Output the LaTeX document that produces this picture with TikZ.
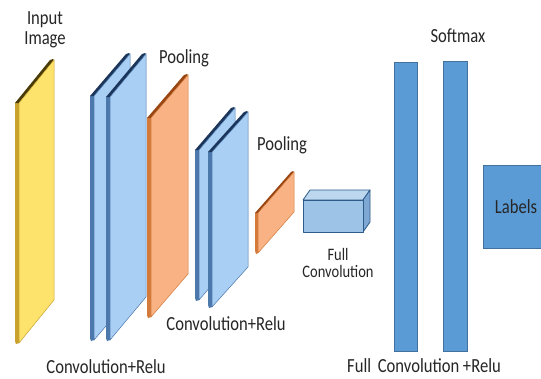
\documentclass[tikz,border=0pt]{standalone}
\usepackage{fontspec}
\setmainfont[FakeStretch=0.83]{Carlito}
\definecolor{txt}{HTML}{262626}
\definecolor{yface}{HTML}{FDE36C}
\definecolor{ystrip}{HTML}{C9A22E}
\definecolor{ytop}{HTML}{4A3C08}
\definecolor{bface}{HTML}{A9CFF4}
\definecolor{bstrip}{HTML}{4C78AC}
\definecolor{btop}{HTML}{1C355A}
\definecolor{oface}{HTML}{F8B283}
\definecolor{ostrip}{HTML}{D47B3C}
\definecolor{otop}{HTML}{9A4612}
\definecolor{barfill}{HTML}{5B9BD5}
\definecolor{barline}{HTML}{41719C}
\definecolor{cfront}{HTML}{9DC3E6}
\definecolor{ctop}{HTML}{BDD7EE}
\definecolor{cside}{HTML}{7FA7D3}
\definecolor{cline}{HTML}{2E5C8A}
% #1 xl, #2 xr, #3 yt, #4 rise, #5 height, #6 thickness, #7 face, #8 strip, #9 top
\newcommand\myplate[9]{%
  \fill[#8] (#1-#6,#3) -- (#1,#3) -- (#1,#3+#5) -- (#1-#6+1,#3+#5+1) -- (#1-#6,#3+#5-2) -- cycle;
  \fill[#9] (#1-#6,#3) -- (#2-#6,#3-#4) -- (#2-1,#3-#4-1) -- (#2,#3-#4) -- (#1,#3) -- cycle;
  \filldraw[fill=#7,draw=#8,line width=0.5pt] (#1,#3) -- (#2,#3-#4) -- (#2,#3-#4+#5) -- (#1,#3+#5) -- cycle;
}
\tikzset{
  lbl/.style={text=txt,inner sep=0pt,anchor=base,font=\fontsize{20}{19.5}\selectfont,align=center},
  lblsmall/.style={lbl,font=\fontsize{17.5}{17}\selectfont},
  bar/.style={fill=barfill,draw=barline,line width=0.6pt}
}
\begin{document}
\begin{tikzpicture}[x=1pt,y=-1pt]
\useasboundingbox[fill=white] (0,0) rectangle (541,378);
% input image
\myplate{19}{54}{103}{43}{240}{4}{yface}{ystrip}{ytop}
% conv1
\myplate{94}{130}{96}{42}{244}{4}{bface}{bstrip}{btop}
\myplate{110}{146}{97}{43}{243}{4}{bface}{bstrip}{btop}
% pool1
\myplate{151}{188}{118}{43}{199}{4}{oface}{ostrip}{otop}
% conv2
\myplate{199}{235}{150}{42}{150}{4}{bface}{bstrip}{btop}
\myplate{212}{248}{152}{40}{155}{4}{bface}{bstrip}{btop}
% pool2
\myplate{258}{294}{213}{41}{40}{3}{oface}{ostrip}{otop}
% full convolution box
\filldraw[fill=ctop,draw=cline,line width=0.8pt,line join=round] (303,200) -- (310,190) -- (370,190) -- (363,200) -- cycle;
\filldraw[fill=cside,draw=cline,line width=0.8pt,line join=round] (363,200) -- (370,190) -- (370,222) -- (363,232) -- cycle;
\filldraw[fill=cfront,draw=cline,line width=0.8pt,line join=round] (303,200) rectangle (363,232);
% tall bars
\node[bar,minimum width=23pt,minimum height=289pt,inner sep=0pt,anchor=north west] (fc1) at (394,62) {};
\node[bar,minimum width=24pt,minimum height=290pt,inner sep=0pt,anchor=north west] (fc2) at (443,61) {};
\node[bar,minimum width=64pt,minimum height=83pt,inner sep=0pt,anchor=north west] (lab) at (483,165) {};
\node[lbl,text=txt] (labt) at (516,213) {Labels};
% texts
\node[lbl] (tin) at (45,44) {Input\\Image};
\node[lbl] (tp1) at (184,63) {Pooling};
\node[lbl] (tp2) at (282,150) {Pooling};
\node[lbl] (tc2) at (226,330) {Convolution+Relu};
\node[lbl] (tc1) at (106,373) {Convolution+Relu};
\node[lblsmall] (tfc) at (338,277) {Full\\Convolution};
\node[lbl] (tsm) at (458,42) {Softmax};
\node[lbl,anchor=base west] (tfr) at (347,372) {Full\hspace{3pt} Convolution +Relu};
\end{tikzpicture}
\end{document}
